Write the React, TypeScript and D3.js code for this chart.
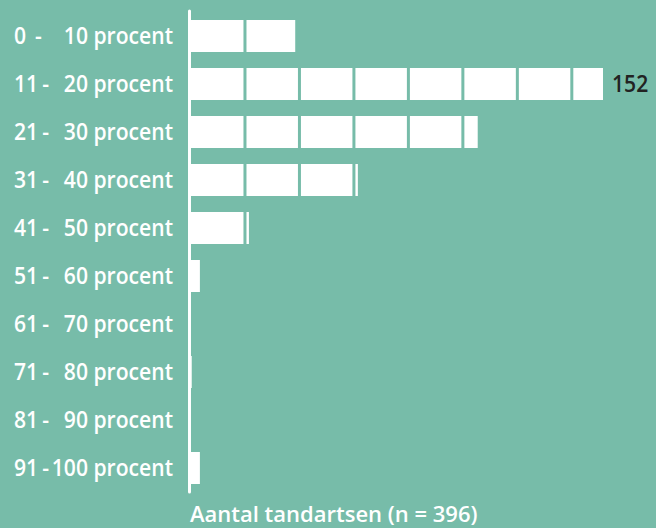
import React, { useRef, useEffect } from "react";
import * as d3 from "d3";

// ranges and number of dentists per range
const rangeFrom = ["0", "11", "21", "31", "41", "51", "61", "71", "81", "91"];
const rangeTo = ["10", "20", "30", "40", "50", "60", "70", "80", "90", "100"];
const counts = [39, 152, 106, 62, 22, 4, 0, 1, 0, 4];
const segmentTicks = [20, 40, 60, 80, 100, 120, 140];
const labelledValue = 152;
const axisTitle = "Aantal tandartsen (n = 396)";

const BG = "#77bca9";
const FONT = "'Open Sans', 'Noto Sans', sans-serif";
const SX = 0.88; // squeeze text horizontally, the original font is condensed

const App = () => {
	const chartRef = useRef<SVGSVGElement>(null);

	useEffect(() => {
		const width = 656;
		const height = 528;

		d3.select(chartRef.current).selectAll("*").remove();

		const svg = d3
			.select(chartRef.current)
			.attr("width", width)
			.attr("height", height);

		svg.append("rect")
			.attr("width", width)
			.attr("height", height)
			.attr("fill", BG);

		const cats = rangeFrom.map((d, i) => i);

		const xScale = d3.scaleLinear()
			.domain([0, 152])
			.range([189, 603]);

		const yScale = d3.scaleBand<number>()
			.domain(cats)
			.range([12, 492])
			.paddingInner(1 / 3)
			.paddingOuter(1 / 6);

		const midY = (i: number) => yScale(i)! + yScale.bandwidth() / 2 + 8.5;

		// bars
		svg.append("g")
			.selectAll("rect")
			.data(counts)
			.enter()
			.append("rect")
			.attr("x", xScale(0))
			.attr("y", (d, i) => yScale(i)!)
			.attr("width", d => xScale(d) - xScale(0))
			.attr("height", yScale.bandwidth())
			.attr("fill", "#ffffff");

		// segment dividers inside the bars
		const dividers = counts.flatMap((v, i) =>
			segmentTicks.filter(t => t < v).map(t => ({ t, i }))
		);
		svg.append("g")
			.selectAll("rect")
			.data(dividers)
			.enter()
			.append("rect")
			.attr("x", d => xScale(d.t))
			.attr("y", d => yScale(d.i)!)
			.attr("width", 3)
			.attr("height", yScale.bandwidth())
			.attr("fill", BG);

		// axis line
		svg.append("line")
			.attr("x1", 189.5)
			.attr("x2", 189.5)
			.attr("y1", 11)
			.attr("y2", 492)
			.attr("stroke", "#ffffff")
			.attr("stroke-width", 3)
			.attr("stroke-linecap", "round");

		// category labels in a horizontally squeezed group
		const txt = svg.append("g")
			.attr("transform", `scale(${SX},1)`)
			.attr("font-family", FONT)
			.attr("font-weight", 600)
			.attr("font-size", 24)
			.attr("fill", "#ffffff");

		const froms = txt.selectAll(".from")
			.data(rangeFrom)
			.enter()
			.append("text")
			.attr("class", "from")
			.attr("x", 14 / SX)
			.attr("y", (d, i) => midY(i))
			.text(d => d);

		// dash sits after the start number, with a small gap
		const fromEnds = froms.nodes().map(n => 14 + (n as SVGTextElement).getComputedTextLength() * SX);

		txt.selectAll(".dash")
			.data(rangeFrom)
			.enter()
			.append("text")
			.attr("class", "dash")
			.attr("x", (d, i) => Math.max(35, fromEnds[i] + 4) / SX)
			.attr("y", (d, i) => midY(i))
			.text("-");

		txt.selectAll(".to")
			.data(rangeTo)
			.enter()
			.append("text")
			.attr("class", "to")
			.attr("x", 173 / SX)
			.attr("y", (d, i) => midY(i))
			.attr("text-anchor", "end")
			.text(d => `${d} procent`);

		// value label
		const idx = counts.indexOf(labelledValue);
		txt.append("text")
			.attr("x", (xScale(labelledValue) + 9) / SX)
			.attr("y", midY(idx))
			.attr("fill", "#222222")
			.text(labelledValue);

		// axis title
		svg.append("text")
			.attr("x", 190)
			.attr("y", 522)
			.attr("font-family", FONT)
			.attr("font-weight", 600)
			.attr("font-size", 22)
			.attr("fill", "#ffffff")
			.text(axisTitle);
	}, []);

	return (
		<svg ref={chartRef} style={{ position: "absolute", left: 0, top: 0, display: "block" }}></svg>
	);
};

export default App;
